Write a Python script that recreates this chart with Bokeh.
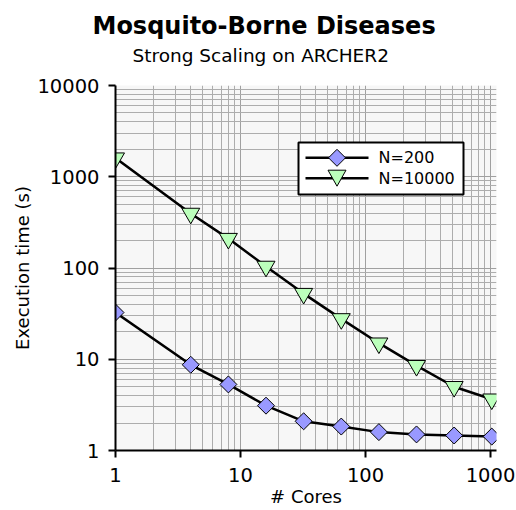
import numpy as np
from bokeh.plotting import figure
from bokeh.models import (Range1d, FixedTicker, PrintfTickFormatter, Label,
                          Title, BoxAnnotation, PolyAnnotation)
from bokeh.embed import file_html
from bokeh.resources import INLINE

# ---- data ----
cores = [1, 4, 8, 16, 32, 64, 128, 256, 512, 1024]
time_n200 = [32.5, 8.7, 5.3, 3.1, 2.09, 1.83, 1.59, 1.50, 1.46, 1.42]
time_n10000 = [1600, 396, 210, 104, 52.4, 27.7, 15.0, 8.5, 5.0, 3.65]
series_labels = ["N=200", "N=10000"]
x_tick_values = [1, 10, 100, 1000]
y_tick_values = [1, 10, 100, 1000, 10000]
title_text = "Mosquito-Borne Diseases"
subtitle_text = "Strong Scaling on ARCHER2"
x_label_text = "# Cores"
y_label_text = "Execution time (s)"

FONT = "DejaVu Sans"
X_MAX = 1117
COLOR_200 = "#9999ff"
COLOR_10000 = "#bbffbb"

x_minor = [m * 10 ** e for e in range(0, 4) for m in range(2, 10) if m * 10 ** e < X_MAX]
y_minor = [m * 10 ** e for e in range(0, 4) for m in range(2, 10)]

p = figure(width=516, height=510, x_axis_type="log", y_axis_type="log",
           x_range=Range1d(1, X_MAX), y_range=Range1d(1, 10000),
           output_backend="svg", toolbar_location=None, title=None,
           min_border_left=115, min_border_right=20,
           min_border_top=85, min_border_bottom=60,
           background_fill_color="#f7f7f7", border_fill_color="white",
           outline_line_color=None)

# titles
p.add_layout(Title(text=subtitle_text, align="left", offset=17,
                   text_font=FONT, text_font_size="18.5px",
                   text_font_style="normal", text_color="black",
                   standoff=40), "above")
p.add_layout(Title(text=title_text, align="left", offset=-23,
                   text_font=FONT, text_font_size="24px",
                   text_font_style="bold", text_color="black",
                   standoff=-34), "above")

p.xaxis.ticker = FixedTicker(ticks=x_tick_values, minor_ticks=x_minor)
p.yaxis.ticker = FixedTicker(ticks=y_tick_values, minor_ticks=y_minor)
p.xaxis.formatter = PrintfTickFormatter(format="%d")
p.yaxis.formatter = PrintfTickFormatter(format="%d")

for ax in (p.xaxis[0], p.yaxis[0]):
    ax.axis_line_color = "black"
    ax.axis_line_width = 2
    ax.major_tick_line_color = "black"
    ax.major_tick_line_width = 2
    ax.major_tick_out = 7
    ax.major_tick_in = 0
    ax.minor_tick_line_color = None
    ax.major_label_text_font = FONT
    ax.major_label_text_font_size = "19.5px"
    ax.major_label_text_color = "black"
    ax.axis_label_text_font = FONT
    ax.axis_label_text_font_size = "18px"
    ax.axis_label_text_font_style = "normal"
    ax.axis_label_text_color = "black"
p.xaxis.major_label_standoff = 10
p.yaxis.major_label_standoff = 9
p.xaxis.axis_label = x_label_text
p.yaxis.axis_label = y_label_text
p.xaxis.axis_label_standoff = 1
p.yaxis.axis_label_standoff = 1

for g in (p.xgrid[0], p.ygrid[0]):
    g.grid_line_color = "#a0a0a0"
    g.grid_line_width = 1
    g.minor_grid_line_color = "#adadad"
    g.minor_grid_line_width = 1

p.line(cores, time_n200, line_color="black", line_width=2.5)
p.scatter(cores, time_n200, marker="square", angle=np.pi / 4, size=12,
          fill_color=COLOR_200, line_color="black", line_width=1)
p.line(cores, time_n10000, line_color="black", line_width=2.5)
p.scatter(cores, time_n10000, marker="inverted_triangle", size=18,
          fill_color=COLOR_10000, line_color="black", line_width=1)

# ---- legend box (screen px relative to the plot frame, y up) ----
LX0, LX1, LY0, LY1 = 183, 348, 256, 308
ROW1, ROW2 = 292.7, 272.3
GX0, GX1, GXC = 190, 253, 221.5
TX = 263
p.add_layout(BoxAnnotation(left=LX0, right=LX1, bottom=LY0, top=LY1,
                           left_units="screen", right_units="screen",
                           bottom_units="screen", top_units="screen",
                           fill_color="white", fill_alpha=1.0,
                           line_color="black", line_alpha=1.0, line_width=2))
for row in (ROW1, ROW2):
    p.add_layout(PolyAnnotation(xs=[GX0, GX1], ys=[row, row],
                                xs_units="screen", ys_units="screen",
                                fill_color=None, line_color="black",
                                line_alpha=1.0, line_width=2.5))
d = 8.5
p.add_layout(PolyAnnotation(xs=[GXC - d, GXC, GXC + d, GXC],
                            ys=[ROW1, ROW1 + d, ROW1, ROW1 - d],
                            xs_units="screen", ys_units="screen",
                            fill_color=COLOR_200, fill_alpha=1.0,
                            line_color="black", line_alpha=1.0, line_width=1))
p.add_layout(PolyAnnotation(xs=[GXC - 9, GXC + 9, GXC],
                            ys=[ROW2 + 8, ROW2 + 8, ROW2 - 8],
                            xs_units="screen", ys_units="screen",
                            fill_color=COLOR_10000, fill_alpha=1.0,
                            line_color="black", line_alpha=1.0, line_width=1))
for row, lab in ((ROW1, series_labels[0]), (ROW2, series_labels[1])):
    p.add_layout(Label(x=TX, y=row, x_units="screen", y_units="screen",
                       text=lab, text_font=FONT, text_font_size="16px",
                       text_align="left", text_baseline="middle",
                       text_color="black"))

open("out.html", "w").write(file_html(p, INLINE))
